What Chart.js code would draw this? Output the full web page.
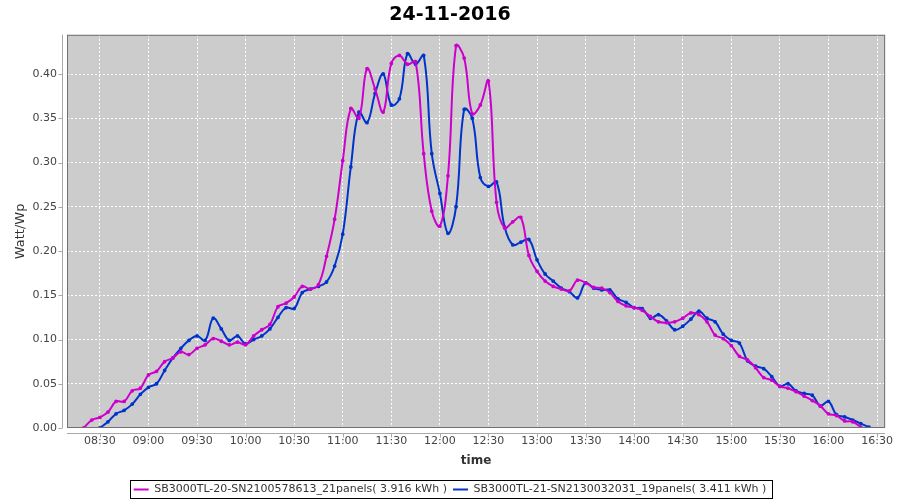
<!DOCTYPE html>
<html>
<head>
<meta charset="utf-8">
<script src="https://cdn.jsdelivr.net/npm/chart.js"></script>
<style>
  html, body { margin: 0; padding: 0; background: #ffffff; }
</style>
</head>
<body>
<canvas id="powerChart" width="900" height="500"></canvas>
<script>
// sample times (5 minute steps)
const times = [
    '08:20', '08:25', '08:30', '08:35', '08:40', '08:45', '08:50', '08:55',
    '09:00', '09:05', '09:10', '09:15', '09:20', '09:25', '09:30', '09:35', '09:40', '09:45', '09:50', '09:55',
    '10:00', '10:05', '10:10', '10:15', '10:20', '10:25', '10:30', '10:35', '10:40', '10:45', '10:50', '10:55',
    '11:00', '11:05', '11:10', '11:15', '11:20', '11:25', '11:30', '11:35', '11:40', '11:45', '11:50', '11:55',
    '12:00', '12:05', '12:10', '12:15', '12:20', '12:25', '12:30', '12:35', '12:40', '12:45', '12:50', '12:55',
    '13:00', '13:05', '13:10', '13:15', '13:20', '13:25', '13:30', '13:35', '13:40', '13:45', '13:50', '13:55',
    '14:00', '14:05', '14:10', '14:15', '14:20', '14:25', '14:30', '14:35', '14:40', '14:45', '14:50', '14:55',
    '15:00', '15:05', '15:10', '15:15', '15:20', '15:25', '15:30', '15:35', '15:40', '15:45', '15:50', '15:55',
    '16:00', '16:05', '16:10', '16:15', '16:20', '16:25'
];

// SB3000TL-20 (21 panels), Watt/Wp
const inverter20 = [
    0.000, 0.009, 0.012, 0.018, 0.030, 0.030, 0.042, 0.045,
    0.060, 0.064, 0.075, 0.079, 0.086, 0.083, 0.090, 0.094, 0.101, 0.098, 0.094, 0.097,
    0.094, 0.104, 0.111, 0.117, 0.137, 0.141, 0.148, 0.160, 0.157, 0.162, 0.194, 0.236,
    0.302, 0.361, 0.350, 0.406, 0.383, 0.357, 0.412, 0.421, 0.411, 0.414, 0.310, 0.245,
    0.228, 0.285, 0.432, 0.418, 0.355, 0.365, 0.392, 0.255, 0.226, 0.233, 0.238, 0.195,
    0.177, 0.166, 0.160, 0.157, 0.155, 0.167, 0.164, 0.159, 0.158, 0.153, 0.143, 0.138,
    0.136, 0.133, 0.126, 0.120, 0.119, 0.120, 0.124, 0.130, 0.128, 0.120, 0.105, 0.101,
    0.093, 0.081, 0.077, 0.068, 0.057, 0.054, 0.047, 0.045, 0.041, 0.036, 0.031, 0.025,
    0.016, 0.014, 0.008, 0.007, 0.001, null
];

// SB3000TL-21 (19 panels), Watt/Wp
const inverter21 = [
    null, null, 0.000, 0.007, 0.016, 0.020, 0.027, 0.038,
    0.046, 0.050, 0.065, 0.079, 0.090, 0.099, 0.104, 0.099, 0.124, 0.112, 0.099, 0.104,
    0.095, 0.100, 0.104, 0.112, 0.125, 0.136, 0.135, 0.153, 0.157, 0.160, 0.165, 0.183,
    0.219, 0.295, 0.357, 0.345, 0.378, 0.400, 0.365, 0.372, 0.423, 0.411, 0.421, 0.310,
    0.265, 0.220, 0.250, 0.360, 0.350, 0.283, 0.273, 0.278, 0.227, 0.207, 0.210, 0.213,
    0.190, 0.174, 0.166, 0.158, 0.154, 0.147, 0.164, 0.158, 0.156, 0.156, 0.146, 0.142,
    0.136, 0.135, 0.124, 0.128, 0.121, 0.111, 0.115, 0.123, 0.132, 0.124, 0.120, 0.106,
    0.099, 0.096, 0.076, 0.070, 0.067, 0.058, 0.047, 0.050, 0.042, 0.039, 0.037, 0.025,
    0.030, 0.015, 0.0125, 0.009, 0.005, 0.001
];

const xTickLabels = ['08:30', '09:00', '09:30', '10:00', '10:30', '11:00', '11:30', '12:00', '12:30',
    '13:00', '13:30', '14:00', '14:30', '15:00', '15:30', '16:00', '16:30'];
const yTickValues = [0, 0.05, 0.10, 0.15, 0.20, 0.25, 0.30, 0.35, 0.40];

function toMinutes(hhmm) {
    const [h, m] = hhmm.split(':').map(Number);
    return h * 60 + m;
}

function toPoints(values) {
    return times
        .map((t, i) => ({ x: toMinutes(t), y: values[i] }))
        .filter(p => p.y !== null);
}

// grey plot background, frame, offset axis lines and legend box
const plotFrame = {
    id: 'plotFrame',
    beforeDraw(chart) {
        const { ctx, chartArea: a } = chart;
        ctx.save();
        ctx.fillStyle = '#cccccc';
        ctx.fillRect(a.left, a.top, a.right - a.left, a.bottom - a.top);
        ctx.restore();
    },
    afterDraw(chart) {
        const { ctx, chartArea: a, scales } = chart;
        ctx.save();
        ctx.lineWidth = 1;
        ctx.strokeStyle = '#707070';
        ctx.strokeRect(a.left + 0.5, a.top + 0.5, a.right - a.left - 1, a.bottom - a.top - 1);

        const axX = a.left - 4.5;
        const axY = a.bottom + 5.5;
        ctx.strokeStyle = '#a8a8a8';
        ctx.beginPath();
        ctx.moveTo(axX, a.top);
        ctx.lineTo(axX, a.bottom);
        scales.y.ticks.forEach(t => {
            const py = Math.round(scales.y.getPixelForValue(t.value)) + 0.5;
            ctx.moveTo(axX - 4, py);
            ctx.lineTo(axX, py);
        });
        ctx.moveTo(a.left, axY);
        ctx.lineTo(a.right, axY);
        scales.x.ticks.forEach(t => {
            const px = Math.round(scales.x.getPixelForValue(t.value)) + 0.5;
            ctx.moveTo(px, axY);
            ctx.lineTo(px, axY + 4);
        });
        ctx.stroke();

        const boxes = chart.legend.legendHitBoxes;
        if (boxes && boxes.length) {
            const left = Math.min(...boxes.map(b => b.left)) - 4;
            const right = Math.max(...boxes.map(b => b.left + b.width)) + 5;
            const top = Math.min(...boxes.map(b => b.top)) - 4;
            const bottom = Math.max(...boxes.map(b => b.top + b.height)) + 3;
            ctx.strokeStyle = '#000000';
            ctx.strokeRect(Math.round(left) + 0.5, Math.round(top) + 0.5,
                Math.round(right - left), Math.round(bottom - top));
        }
        ctx.restore();
    }
};

Chart.defaults.font.family = "'DejaVu Sans', sans-serif";

const ctx = document.getElementById('powerChart').getContext('2d');
new Chart(ctx, {
    type: 'line',
    data: {
        datasets: [{
            label: 'SB3000TL-20-SN2100578613_21panels( 3.916 kWh )',
            data: toPoints(inverter20),
            borderColor: '#cc00cc',
            backgroundColor: '#cc00cc',
            borderWidth: 2,
            pointRadius: 0.9,
            pointHoverRadius: 0.9,
            tension: 0.4,
            fill: false
        }, {
            label: 'SB3000TL-21-SN2130032031_19panels( 3.411 kWh )',
            data: toPoints(inverter21),
            borderColor: '#0033cc',
            backgroundColor: '#0033cc',
            borderWidth: 2,
            pointRadius: 0.9,
            pointHoverRadius: 0.9,
            tension: 0.4,
            fill: false
        }]
    },
    plugins: [plotFrame],
    options: {
        responsive: false,
        animation: false,
        devicePixelRatio: 1,
        layout: { padding: { left: 12, right: 12, top: 0, bottom: -5 } },
        plugins: {
            title: {
                display: true,
                text: '24-11-2016',
                color: '#000000',
                font: { size: 19, weight: 'bold' },
                padding: { top: 4, bottom: 8 }
            },
            legend: {
                display: true,
                position: 'bottom',
                labels: {
                    color: '#333333',
                    font: { size: 11 },
                    usePointStyle: true,
                    pointStyle: 'line',
                    pointStyleWidth: 15,
                    boxHeight: 11,
                    padding: 6
                }
            },
            tooltip: { enabled: false }
        },
        scales: {
            x: {
                type: 'linear',
                min: 489.7,
                max: 995,
                afterBuildTicks: scale => {
                    scale.ticks = xTickLabels.map(l => ({ value: toMinutes(l) }));
                },
                afterFit: scale => { scale.height = 50; },
                ticks: {
                    color: '#444444',
                    font: { size: 11 },
                    padding: 7,
                    maxRotation: 0,
                    autoSkip: false,
                    callback: (value, index) => xTickLabels[index]
                },
                grid: { color: '#ffffff', lineWidth: 1, drawTicks: false },
                border: { display: false, dash: [2, 2] },
                title: {
                    display: true,
                    text: 'time',
                    color: '#333333',
                    font: { size: 12, weight: 'bold' },
                    padding: { top: 2, bottom: 10 }
                }
            },
            y: {
                min: 0,
                max: 0.4443,
                afterBuildTicks: scale => {
                    scale.ticks = yTickValues.map(v => ({ value: v }));
                },
                afterFit: scale => { scale.width = 55; },
                ticks: {
                    color: '#444444',
                    font: { size: 11 },
                    padding: 10,
                    callback: value => value.toFixed(2)
                },
                grid: { color: '#ffffff', lineWidth: 1, drawTicks: false },
                border: { display: false, dash: [2, 2] },
                title: {
                    display: true,
                    text: 'Watt/Wp',
                    color: '#333333',
                    font: { size: 13 },
                    padding: { top: 1, bottom: 0 }
                }
            }
        }
    }
});
</script>
</body>
</html>
